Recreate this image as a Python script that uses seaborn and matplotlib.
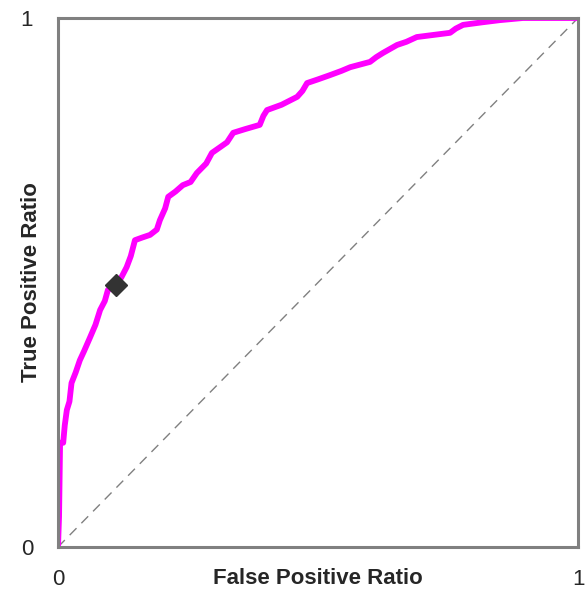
import matplotlib
matplotlib.use("Agg")
import matplotlib.pyplot as plt
import seaborn as sns
import pandas as pd

# ROC curve points
fpr = [0.0, 0.002, 0.004, 0.010, 0.013, 0.017, 0.022, 0.026, 0.034, 0.042, 0.050,
       0.062, 0.072, 0.081, 0.090, 0.096, 0.112, 0.122, 0.132, 0.140, 0.148,
       0.162, 0.177, 0.190, 0.196, 0.206, 0.212, 0.226, 0.240, 0.255, 0.267,
       0.285, 0.296, 0.312, 0.325, 0.337, 0.360, 0.388, 0.395, 0.402, 0.430,
       0.460, 0.470, 0.479, 0.500, 0.523, 0.545, 0.562, 0.600, 0.612, 0.625,
       0.652, 0.670, 0.690, 0.754, 0.765, 0.779, 0.817, 0.850, 0.894, 1.0]
tpr = [0.0, 0.057, 0.197, 0.197, 0.230, 0.259, 0.275, 0.310, 0.330, 0.353, 0.370,
       0.397, 0.420, 0.448, 0.465, 0.486, 0.495, 0.510, 0.529, 0.550, 0.580,
       0.585, 0.590, 0.600, 0.618, 0.640, 0.662, 0.672, 0.684, 0.690, 0.707,
       0.725, 0.745, 0.756, 0.765, 0.783, 0.790, 0.798, 0.815, 0.826, 0.836,
       0.851, 0.862, 0.877, 0.884, 0.892, 0.900, 0.907, 0.917, 0.926, 0.934,
       0.949, 0.955, 0.964, 0.972, 0.980, 0.987, 0.992, 0.996, 1.0, 1.0]

# operating point marker
op_fpr = [0.112]
op_tpr = [0.495]

diag = [0.0, 1.0]

sns.set_style("white")
plt.rcParams['font.family'] = ['Liberation Sans', 'DejaVu Sans']

fig = plt.figure(figsize=(5.86, 5.91), dpi=100)
ax = fig.add_axes([58 / 586, 1 - 547 / 591, 520 / 586, 529 / 591])

roc = pd.DataFrame({"fpr": fpr, "tpr": tpr})

ax.plot(diag, diag, color="#808080", lw=1.0, linestyle=(0, (7, 5)))
sns.lineplot(data=roc, x="fpr", y="tpr", sort=False, estimator=None,
             color="#FF00FF", lw=4.2, ax=ax)
ax.plot(op_fpr, op_tpr, marker="D", markersize=11, color="#333333", linestyle="none", zorder=5)

ax.set_xlim(0, 1)
ax.set_ylim(0, 1)
ax.set_xticks([0, 1])
ax.set_yticks([0, 1])
ax.set_xticklabels(["0", "1"], fontsize=16)
ax.set_yticklabels(["0", "1"], fontsize=16)
ax.tick_params(axis="x", length=0, pad=16)
ax.tick_params(axis="y", length=0, pad=18)

for s in ax.spines.values():
    s.set_color("#808080")
    s.set_linewidth(2.2)

ax.set_xlabel("False Positive Ratio", fontsize=16, fontweight="bold")
ax.set_ylabel("True Positive Ratio", fontsize=16, fontweight="bold")
ax.xaxis.set_label_coords(0.5, -0.059)
ax.yaxis.set_label_coords(-0.05, 0.5)
ax.xaxis.label.set_va("center")
ax.yaxis.label.set_va("center")

fig.savefig("out.png", dpi=100)
